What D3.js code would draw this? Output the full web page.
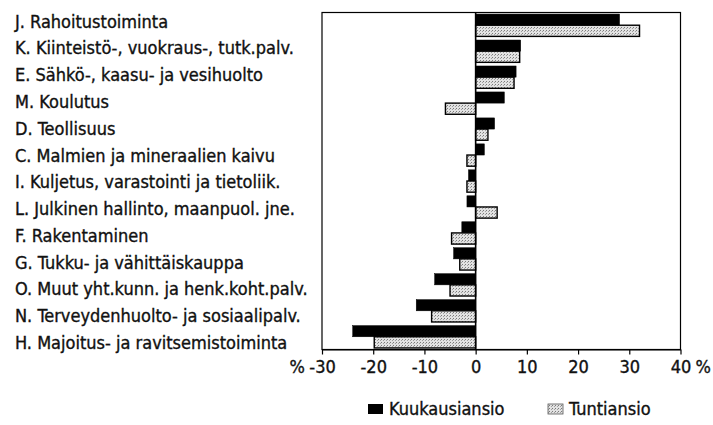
<!DOCTYPE html>
<html>
<head>
<meta charset="utf-8">
<script src="https://cdn.jsdelivr.net/npm/d3@7"></script>
<style>
  body { margin: 0; background: #fff; }
  text { font-family: "DejaVu Sans Condensed", "Liberation Sans Narrow", sans-serif; fill: #111; stroke: #111; stroke-width: 0.35px; }
</style>
</head>
<body>
<svg id="chart" width="713" height="425"></svg>
<script>
const categories = [
  "J. Rahoitustoiminta",
  "K. Kiinteistö-, vuokraus-, tutk.palv.",
  "E. Sähkö-, kaasu- ja vesihuolto",
  "M. Koulutus",
  "D. Teollisuus",
  "C. Malmien ja mineraalien kaivu",
  "I. Kuljetus, varastointi ja tietoliik.",
  "L. Julkinen hallinto, maanpuol. jne.",
  "F. Rakentaminen",
  "G. Tukku- ja vähittäiskauppa",
  "O. Muut yht.kunn. ja henk.koht.palv.",
  "N. Terveydenhuolto- ja sosiaalipalv.",
  "H. Majoitus- ja ravitsemistoiminta"
];
const kuukausiansio = [28.1, 8.8, 7.9, 5.6, 3.7, 1.7, -1.4, -1.7, -2.7, -4.3, -8.0, -11.6, -24.0];
const tuntiansio    = [32.0, 8.6, 7.5, -5.9, 2.4, -1.7, -1.7, 4.2, -4.7, -3.1, -5.0, -8.6, -19.8];
const seriesNames = ["Kuukausiansio", "Tuntiansio"];
const tickValues = [-30, -20, -10, 0, 10, 20, 30, 40];
const tickLabels = ["-30", "-20", "-10", "0", "10", "20", "30", "40"];
const unitLabel = "%";

const svg = d3.select("#chart");
const pL = 322, pR = 680.5, pT = 12.5, pB = 349.5;

const defs = svg.append("defs");
const pat = defs.append("pattern").attr("id", "stip").attr("patternUnits", "userSpaceOnUse")
  .attr("width", 3).attr("height", 3);
pat.append("rect").attr("width", 3).attr("height", 3).attr("fill", "#e2e2e2");
pat.append("rect").attr("x", 0).attr("y", 0).attr("width", 1).attr("height", 1).attr("fill", "#7a7a7a");
pat.append("rect").attr("x", 2).attr("y", 1).attr("width", 1).attr("height", 1).attr("fill", "#a0a0a0");

const x = d3.scaleLinear().domain([-30, 40]).range([pL, pR]);
const y = d3.scaleBand().domain(categories).range([pT, pB]).paddingInner(0.14).paddingOuter(0.06);
const ys = d3.scaleBand().domain(seriesNames).range([0, y.bandwidth()]);
const yLabel = d3.scalePoint().domain(categories).range([27.7, 349]);

// frame
svg.append("rect").attr("x", pL).attr("y", pT).attr("width", pR - pL).attr("height", pB - pT)
  .attr("fill", "none").attr("stroke", "#000").attr("stroke-width", 1.2);

// bars
const g = svg.append("g");
categories.forEach((c, i) => {
  const vals = [kuukausiansio[i], tuntiansio[i]];
  vals.forEach((v, j) => {
    const x0 = x(Math.min(0, v)), x1 = x(Math.max(0, v));
    g.append("rect")
      .attr("x", x0).attr("y", y(c) + ys(seriesNames[j]))
      .attr("width", x1 - x0).attr("height", ys.bandwidth())
      .attr("fill", j === 0 ? "#000" : "url(#stip)")
      .attr("stroke", "#000").attr("stroke-width", j === 0 ? 0.5 : 1.4);
  });
});

// zero line
svg.append("line").attr("x1", x(0)).attr("x2", x(0)).attr("y1", pT).attr("y2", pB)
  .attr("stroke", "#000").attr("stroke-width", 1.6);

// x axis
const axis = d3.axisBottom(x).tickValues(tickValues).tickSize(5).tickSizeOuter(0)
  .tickFormat((d, i) => tickLabels[i]);
const ax = svg.append("g").attr("transform", `translate(0,${pB})`).call(axis);
ax.select(".domain").attr("stroke", "#000").attr("stroke-width", 1.2);
ax.selectAll(".tick line").attr("stroke", "#000").attr("stroke-width", 1.2);
ax.selectAll(".tick text").attr("font-size", 18).attr("dy", "0").attr("y", 23)
  .attr("font-family", "DejaVu Sans Condensed, sans-serif").attr("fill", "#111");
svg.append("text").attr("x", 305).attr("y", pB + 23).attr("text-anchor", "end")
  .attr("font-size", 18).text(unitLabel);
svg.append("text").attr("x", x(40) + 15).attr("y", pB + 23).attr("text-anchor", "start")
  .attr("font-size", 18).text(unitLabel);

// category labels
svg.append("g").selectAll("text").data(categories).join("text")
  .attr("x", 15).attr("y", d => yLabel(d))
  .attr("font-size", 18).text(d => d);

// legend
const leg = svg.append("g");
const legItems = [{ name: seriesNames[0], x: 368, fill: "#000" }, { name: seriesNames[1], x: 548, fill: "url(#stip)" }];
legItems.forEach(it => {
  leg.append("rect").attr("x", it.x).attr("y", 404).attr("width", 15).attr("height", 10)
    .attr("fill", it.fill).attr("stroke", it.fill === "#000" ? "none" : "#555").attr("stroke-width", 0.8);
  leg.append("text").attr("x", it.x + 21).attr("y", 415).attr("font-size", 18).text(it.name);
});
</script>
</body>
</html>
